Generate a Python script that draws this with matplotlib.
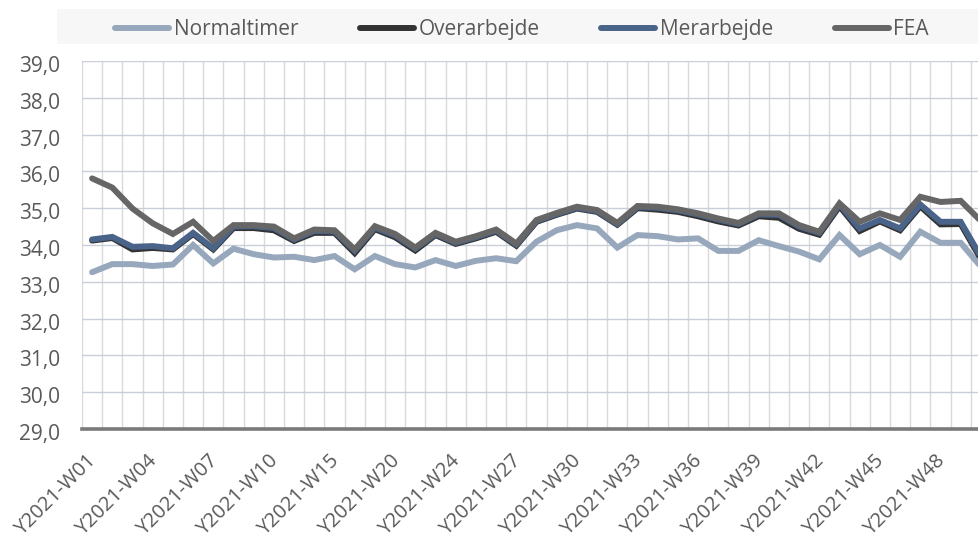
import matplotlib
matplotlib.use("Agg")
import matplotlib.pyplot as plt
from matplotlib.patches import Rectangle
from matplotlib.ticker import FixedLocator, FuncFormatter
from matplotlib.transforms import ScaledTranslation

plt.rcParams['font.family'] = ['Open Sans', 'DejaVu Sans']

weeks = ["Y2021-W01", "Y2021-W02", "Y2021-W03", "Y2021-W04", "Y2021-W05", "Y2021-W06",
         "Y2021-W07", "Y2021-W08", "Y2021-W09", "Y2021-W10", "Y2021-W11", "Y2021-W13",
         "Y2021-W15", "Y2021-W17", "Y2021-W18", "Y2021-W20", "Y2021-W21", "Y2021-W22",
         "Y2021-W24", "Y2021-W25", "Y2021-W26", "Y2021-W27", "Y2021-W28", "Y2021-W29",
         "Y2021-W30", "Y2021-W31", "Y2021-W32", "Y2021-W33", "Y2021-W34", "Y2021-W35",
         "Y2021-W36", "Y2021-W37", "Y2021-W38", "Y2021-W39", "Y2021-W40", "Y2021-W41",
         "Y2021-W42", "Y2021-W43", "Y2021-W44", "Y2021-W45", "Y2021-W46", "Y2021-W47",
         "Y2021-W48", "Y2021-W49", "Y2021-W50"]

normaltimer = [33.26, 33.48, 33.48, 33.43, 33.47, 34.00, 33.50, 33.90, 33.75, 33.66,
               33.68, 33.59, 33.70, 33.34, 33.70, 33.48, 33.39, 33.59, 33.43, 33.57,
               33.64, 33.56, 34.09, 34.40, 34.54, 34.45, 33.93, 34.27, 34.24, 34.15,
               34.18, 33.84, 33.84, 34.13, 33.97, 33.82, 33.61, 34.27, 33.75, 34.00,
               33.68, 34.36, 34.06, 34.06, 33.41]

overarbejde = [34.12, 34.19, 33.88, 33.92, 33.88, 34.30, 33.88, 34.46, 34.46, 34.40,
               34.11, 34.33, 34.33, 33.78, 34.43, 34.21, 33.85, 34.27, 34.03, 34.18,
               34.36, 33.98, 34.63, 34.82, 34.99, 34.90, 34.55, 35.00, 34.96, 34.90,
               34.78, 34.64, 34.53, 34.78, 34.74, 34.44, 34.28, 35.05, 34.38, 34.64,
               34.40, 35.05, 34.56, 34.57, 33.62]

merarbejde = [34.15, 34.22, 33.95, 33.97, 33.91, 34.33, 33.91, 34.50, 34.51, 34.46,
              34.15, 34.38, 34.37, 33.84, 34.47, 34.26, 33.90, 34.30, 34.06, 34.21,
              34.39, 34.01, 34.65, 34.84, 35.01, 34.92, 34.57, 35.03, 35.01, 34.94,
              34.83, 34.69, 34.57, 34.83, 34.82, 34.50, 34.33, 35.10, 34.45, 34.68,
              34.45, 35.10, 34.63, 34.63, 33.68]

fea = [35.81, 35.56, 34.99, 34.59, 34.30, 34.63, 34.11, 34.54, 34.54, 34.50,
       34.18, 34.42, 34.40, 33.88, 34.51, 34.30, 33.93, 34.33, 34.09, 34.24,
       34.42, 34.04, 34.68, 34.87, 35.04, 34.95, 34.60, 35.06, 35.04, 34.97,
       34.86, 34.72, 34.60, 34.86, 34.86, 34.54, 34.36, 35.13, 34.63, 34.86,
       34.68, 35.31, 35.17, 35.20, 34.65]

series_names = ["Normaltimer", "Overarbejde", "Merarbejde", "FEA"]
series_colors = ["#97a7bc", "#333333", "#4a6388", "#666666"]

W, H = 979, 539
fig = plt.figure(figsize=(W / 100, H / 100), dpi=100)

# legend background band
fig.add_artist(Rectangle((57 / W, 1 - 44 / H), 1.0, 35 / H, transform=fig.transFigure,
                         facecolor="#f7f7f7", edgecolor="none", zorder=0))

n = len(weeks)
cat_px = 20.2
left_px = 82
ax = fig.add_axes([left_px / W, (H - 429) / H, n * cat_px / W, 368 / H])
x = list(range(n))

lines = []
for name, vals, col in zip(series_names, [normaltimer, overarbejde, merarbejde, fea], series_colors):
    ln, = ax.plot(x, vals, color=col, lw=4.3, solid_joinstyle="miter",
                  solid_capstyle="round", label=name, zorder=3)
    lines.append(ln)

ax.set_xlim(-0.5, n - 0.5)
ax.set_ylim(29, 39)
ax.set_yticks(range(29, 40))
ax.yaxis.set_major_formatter(FuncFormatter(lambda v, p: f"{v:.1f}".replace(".", ",")))

major = list(range(0, n, 3))
ax.xaxis.set_major_locator(FixedLocator(major))
ax.set_xticklabels([weeks[i] for i in major], rotation=45, ha="right", va="center",
                   rotation_mode="anchor", fontsize=14.5)
ax.xaxis.set_minor_locator(FixedLocator([i - 0.5 for i in range(n + 1)]))

ax.grid(False)
ax.grid(True, axis="x", which="minor", color="#d9d9d9", lw=1.0, zorder=0)
ax.grid(True, axis="y", which="major", color="#c9ced8", lw=1.0, zorder=0)

for s in ["top", "right", "left"]:
    ax.spines[s].set_visible(False)
ax.spines["bottom"].set_color("#7a7a7a")
ax.spines["bottom"].set_linewidth(2.6)
ax.spines["bottom"].set_zorder(4)

ax.tick_params(axis="both", which="both", length=0, colors="#595959")
ax.tick_params(axis="y", labelsize=15, pad=16)
ax.tick_params(axis="x", pad=20.5)

dx = ScaledTranslation(1.5 / 100, 0, fig.dpi_scale_trans)
for lab in ax.get_xticklabels():
    lab.set_transform(lab.get_transform() + dx)
dy = ScaledTranslation(0, -3 / 100, fig.dpi_scale_trans)
for lab in ax.get_yticklabels():
    lab.set_transform(lab.get_transform() + dy)

fs = 15
fig.legend(handles=lines, labels=series_names, loc="center left",
           bbox_to_anchor=(115 / W, 1 - 29.5 / H), ncol=4, frameon=False,
           fontsize=fs, labelcolor="#595959", handlelength=2.6, handletextpad=0.22,
           columnspacing=2.95, borderpad=0, borderaxespad=0)

fig.savefig("out.png", dpi=100)
